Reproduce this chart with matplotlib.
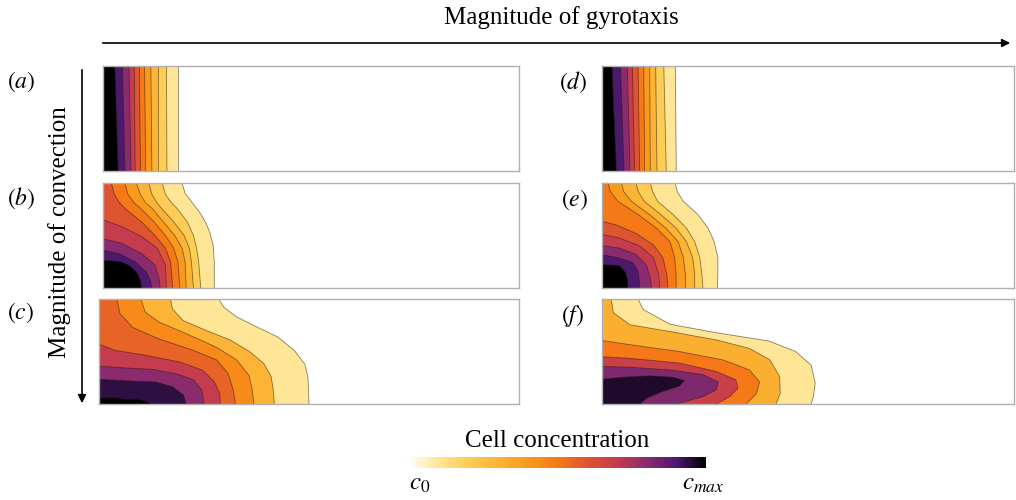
import matplotlib
matplotlib.use("Agg")
import matplotlib.pyplot as plt
from matplotlib.colors import LinearSegmentedColormap, Normalize
from matplotlib.cm import ScalarMappable
from matplotlib.patches import FancyArrowPatch

plt.rcParams["font.family"] = ["Liberation Serif", "DejaVu Serif"]
plt.rcParams["mathtext.fontset"] = "stix"

# contour lines of each panel, outermost (c0 side) first, as (x, y) points
# x runs 0..4 along the layer, y runs 0 (bottom) .. 1 (top)
contours_a = [
    [(0.72, 1.0), (0.72, 0.0)],
    [(0.61, 1.0), (0.615, 0.0)],
    [(0.53, 1.0), (0.53, 0.0)],
    [(0.46, 1.0), (0.47, 0.0)],
    [(0.40, 1.0), (0.41, 0.0)],
    [(0.35, 1.0), (0.36, 0.0)],
    [(0.30, 1.0), (0.31, 0.0)],
    [(0.25, 1.0), (0.27, 0.0)],
    [(0.187, 1.0), (0.211, 0.0)],
    [(0.113, 1.0), (0.146, 0.0)],
]
levels_a = [0.1, 0.2, 0.3, 0.4, 0.5, 0.6, 0.7, 0.8, 0.9, 1.0]

contours_b = [
    [(0.76, 1.0), (0.79, 0.90), (0.86, 0.81), (0.93, 0.72), (0.99, 0.62), (1.03, 0.52), (1.06, 0.40), (1.07, 0.25), (1.07, 0.0)],
    [(0.57, 1.0), (0.60, 0.89), (0.66, 0.81), (0.71, 0.76), (0.81, 0.63), (0.87, 0.50), (0.90, 0.38), (0.92, 0.25), (0.94, 0.0)],
    [(0.44, 1.0), (0.47, 0.89), (0.52, 0.81), (0.56, 0.76), (0.68, 0.63), (0.78, 0.50), (0.83, 0.38), (0.85, 0.25), (0.87, 0.0)],
    [(0.32, 1.0), (0.36, 0.89), (0.41, 0.81), (0.47, 0.76), (0.58, 0.63), (0.69, 0.50), (0.76, 0.38), (0.79, 0.25), (0.80, 0.0)],
    [(0.21, 1.0), (0.24, 0.89), (0.30, 0.81), (0.36, 0.76), (0.49, 0.63), (0.60, 0.50), (0.68, 0.38), (0.72, 0.25), (0.74, 0.0)],
    [(0.08, 1.0), (0.11, 0.89), (0.16, 0.81), (0.21, 0.76), (0.37, 0.63), (0.50, 0.50), (0.60, 0.38), (0.65, 0.25), (0.67, 0.0)],
    [(0.0, 0.65), (0.18, 0.585), (0.37, 0.49), (0.52, 0.38), (0.60, 0.22), (0.61, 0.0)],
    [(0.0, 0.47), (0.18, 0.425), (0.37, 0.33), (0.50, 0.22), (0.54, 0.09), (0.55, 0.0)],
    [(0.0, 0.36), (0.15, 0.33), (0.31, 0.25), (0.42, 0.15), (0.46, 0.06), (0.47, 0.0)],
    [(0.0, 0.265), (0.17, 0.25), (0.26, 0.21), (0.33, 0.14), (0.36, 0.07), (0.37, 0.0)],
]
levels_b = [0.1, 0.2, 0.3, 0.4, 0.5, 0.6, 0.7, 0.8, 0.9, 1.0]

contours_c = [
    [(1.14, 1.0), (1.19, 0.92), (1.31, 0.83), (1.51, 0.73), (1.70, 0.64), (1.86, 0.51), (1.96, 0.38), (1.99, 0.26), (2.0, 0.0)],
    [(0.68, 1.0), (0.70, 0.905), (0.80, 0.795), (1.02, 0.70), (1.25, 0.61), (1.44, 0.495), (1.57, 0.385), (1.64, 0.26), (1.66, 0.13), (1.67, 0.0)],
    [(0.40, 1.0), (0.44, 0.875), (0.57, 0.78), (0.83, 0.67), (1.12, 0.54), (1.31, 0.42), (1.43, 0.27), (1.46, 0.13), (1.475, 0.0)],
    [(0.17, 1.0), (0.20, 0.86), (0.32, 0.73), (0.57, 0.62), (0.90, 0.51), (1.12, 0.42), (1.23, 0.29), (1.28, 0.13), (1.30, 0.0)],
    [(0.0, 0.57), (0.155, 0.51), (0.44, 0.465), (0.77, 0.40), (0.99, 0.32), (1.10, 0.21), (1.15, 0.10), (1.155, 0.0)],
    [(0.0, 0.36), (0.22, 0.345), (0.51, 0.33), (0.73, 0.29), (0.90, 0.23), (0.98, 0.13), (1.0, 0.0)],
    [(0.0, 0.235), (0.28, 0.22), (0.54, 0.21), (0.70, 0.165), (0.805, 0.085), (0.83, 0.0)],
    [(0.0, 0.055), (0.15, 0.06), (0.25, 0.045), (0.38, 0.045), (0.47, 0.015), (0.49, 0.0)],
]
levels_c = [0.1, 0.3, 0.45, 0.56, 0.7, 0.8, 0.94, 1.0]

contours_d = [
    [(0.712, 1.0), (0.721, 0.0)],
    [(0.60, 1.0), (0.624, 0.0)],
    [(0.521, 1.0), (0.534, 0.0)],
    [(0.463, 1.0), (0.469, 0.0)],
    [(0.405, 1.0), (0.414, 0.0)],
    [(0.35, 1.0), (0.366, 0.0)],
    [(0.294, 1.0), (0.317, 0.0)],
    [(0.246, 1.0), (0.272, 0.0)],
    [(0.18, 1.0), (0.214, 0.0)],
    [(0.097, 1.0), (0.139, 0.0)],
]
levels_d = [0.1, 0.2, 0.3, 0.4, 0.5, 0.6, 0.7, 0.8, 0.9, 1.0]

contours_e = [
    [(0.71, 1.0), (0.73, 0.92), (0.79, 0.825), (0.93, 0.70), (1.03, 0.57), (1.09, 0.44), (1.125, 0.29), (1.125, 0.13), (1.12, 0.0)],
    [(0.47, 1.0), (0.49, 0.92), (0.54, 0.825), (0.69, 0.70), (0.82, 0.57), (0.90, 0.44), (0.95, 0.29), (0.97, 0.13), (0.98, 0.0)],
    [(0.33, 1.0), (0.35, 0.92), (0.41, 0.825), (0.57, 0.70), (0.72, 0.57), (0.82, 0.44), (0.88, 0.29), (0.90, 0.13), (0.90, 0.0)],
    [(0.19, 1.0), (0.21, 0.92), (0.285, 0.825), (0.46, 0.70), (0.62, 0.57), (0.74, 0.44), (0.79, 0.29), (0.81, 0.13), (0.81, 0.0)],
    [(0.06, 1.0), (0.08, 0.92), (0.155, 0.825), (0.35, 0.70), (0.53, 0.57), (0.66, 0.44), (0.705, 0.29), (0.72, 0.13), (0.72, 0.0)],
    [(0.0, 0.635), (0.14, 0.60), (0.33, 0.52), (0.50, 0.41), (0.59, 0.29), (0.63, 0.13), (0.64, 0.0)],
    [(0.0, 0.51), (0.17, 0.475), (0.37, 0.40), (0.50, 0.29), (0.55, 0.13), (0.56, 0.0)],
    [(0.0, 0.405), (0.17, 0.38), (0.33, 0.32), (0.43, 0.22), (0.47, 0.095), (0.48, 0.0)],
    [(0.0, 0.317), (0.17, 0.286), (0.30, 0.24), (0.35, 0.16), (0.365, 0.05), (0.366, 0.0)],
    [(0.0, 0.222), (0.17, 0.215), (0.23, 0.145), (0.25, 0.065), (0.25, 0.0)],
]
levels_e = [0.1, 0.2, 0.3, 0.4, 0.5, 0.6, 0.7, 0.8, 0.9, 1.0]

contours_f = [
    [(0.35, 1.0), (0.40, 0.90), (0.66, 0.76), (1.10, 0.68), (1.62, 0.60), (1.88, 0.50), (2.03, 0.37), (2.07, 0.20), (2.05, 0.06), (2.03, 0.0)],
    [(0.09, 1.0), (0.11, 0.87), (0.27, 0.755), (0.66, 0.69), (1.11, 0.61), (1.43, 0.53), (1.63, 0.42), (1.725, 0.26), (1.73, 0.10), (1.69, 0.0)],
    [(0.0, 0.605), (0.27, 0.565), (0.75, 0.50), (1.175, 0.42), (1.43, 0.325), (1.53, 0.21), (1.50, 0.10), (1.40, 0.0)],
    [(0.0, 0.45), (0.27, 0.435), (0.75, 0.39), (1.11, 0.31), (1.30, 0.23), (1.32, 0.15), (1.24, 0.07), (1.11, 0.0)],
    [(0.0, 0.357), (0.27, 0.35), (0.66, 0.325), (0.98, 0.28), (1.13, 0.21), (1.11, 0.135), (0.98, 0.07), (0.72, 0.0)],
    [(0.0, 0.236), (0.20, 0.255), (0.46, 0.268), (0.69, 0.255), (0.80, 0.223), (0.75, 0.17), (0.59, 0.12), (0.43, 0.054), (0.37, 0.0)],
]
levels_f = [0.1, 0.32, 0.5, 0.68, 0.82, 0.96]

panel_labels = ["(a)", "(b)", "(c)", "(d)", "(e)", "(f)"]

# white -> pale yellow -> orange -> red -> purple -> black
cmap = LinearSegmentedColormap.from_list("cells", [
    (0.0, "#ffffff"), (0.1, "#fee594"), (0.2, "#fdcd55"), (0.3, "#fcb436"),
    (0.4, "#f99a1c"), (0.5, "#f57a17"), (0.6, "#df5430"), (0.7, "#c53c4d"),
    (0.8, "#8a2b6e"), (0.9, "#4e1a6f"), (1.0, "#000000")])

W, H = 1016, 500


def box(l, t, r, b):
    # pixel box -> figure fraction
    return [l / W, 1 - b / H, (r - l) / W, (b - t) / H]


def draw_panel(ax, contours, levels):
    for pts, lev in zip(contours, levels):
        xs = [p[0] for p in pts]
        ys = [p[1] for p in pts]
        ax.fill(xs + [0, 0], ys + [0, ys[0]], color=cmap(lev), lw=0)
        ax.plot(xs, ys, color="#2a1a10", lw=0.6, alpha=0.55)
    ax.set_xlim(0, 4)
    ax.set_ylim(0, 1)
    ax.set_xticks([])
    ax.set_yticks([])
    for s in ax.spines.values():
        s.set_color("#b0b0b0")
        s.set_linewidth(1.0)
        s.set_zorder(5)


fig = plt.figure(figsize=(W / 100, H / 100), dpi=100)

boxes = [box(103, 66, 519, 171), box(103, 183, 519, 288), box(99, 299, 519, 404),
         box(602, 66, 1014, 171), box(602, 183, 1014, 288), box(602, 299, 1014, 404)]
data = [(contours_a, levels_a), (contours_b, levels_b), (contours_c, levels_c),
        (contours_d, levels_d), (contours_e, levels_e), (contours_f, levels_f)]
label_pos = [(21, 82), (21, 198), (21, 313), (573, 82), (575, 200), (573, 316)]

for bx, (cs, lv), lab, (lx, ly) in zip(boxes, data, panel_labels, label_pos):
    ax = fig.add_axes(bx)
    draw_panel(ax, cs, lv)
    fig.text(lx / W, 1 - ly / H, "$" + lab + "$", fontsize=17, ha="center", va="center")

# axis arrows
fig.add_artist(FancyArrowPatch((100 / W, 1 - 43 / H), (1013 / W, 1 - 43 / H), transform=fig.transFigure,
                               arrowstyle="-|>", mutation_scale=12, lw=1.2, color="k"))
fig.add_artist(FancyArrowPatch((82 / W, 1 - 67 / H), (82 / W, 1 - 406 / H), transform=fig.transFigure,
                               arrowstyle="-|>", mutation_scale=12, lw=1.2, color="k"))
fig.text(561 / W, 1 - 18 / H, "Magnitude of gyrotaxis", fontsize=18, ha="center", va="center")
fig.text(60 / W, 1 - 232 / H, "Magnitude of convection", fontsize=18, ha="center", va="center", rotation=90)

# colour bar
cax = fig.add_axes(box(408, 457, 706, 468))
cb = fig.colorbar(ScalarMappable(norm=Normalize(0, 1), cmap=cmap), cax=cax, orientation="horizontal")
cb.outline.set_visible(False)
cb.set_ticks([])
fig.text(557 / W, 1 - 447 / H, "Cell concentration", fontsize=18, ha="center", va="baseline")
fig.text(420 / W, 1 - 484 / H, "$c_0$", fontsize=18, ha="center", va="center")
fig.text(703 / W, 1 - 484 / H, "$c_{max}$", fontsize=18, ha="center", va="center")

fig.savefig("out.png", dpi=100)
